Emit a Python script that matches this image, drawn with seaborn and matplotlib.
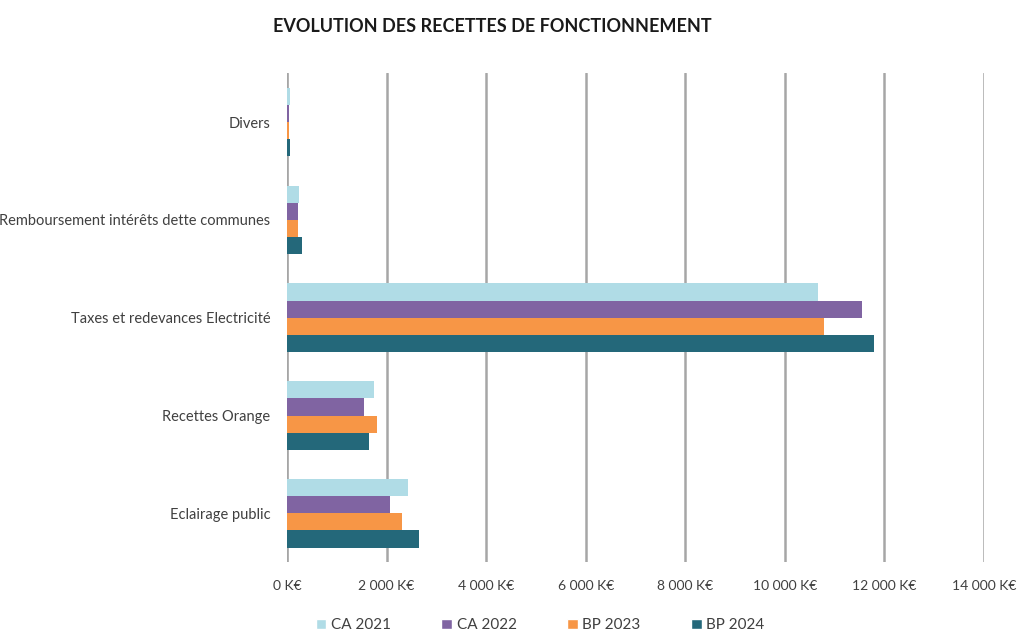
import pandas as pd
import matplotlib.pyplot as plt
import seaborn as sns
from matplotlib.ticker import FuncFormatter
from matplotlib.patches import Patch

# Data (K€)
categories = ["Divers", "Remboursement intérêts dette communes",
              "Taxes et redevances Electricité", "Recettes Orange", "Eclairage public"]
series = ["CA 2021", "CA 2022", "BP 2023", "BP 2024"]
ca_2021 = [60, 240, 10660, 1740, 2430]
ca_2022 = [50, 215, 11560, 1550, 2070]
bp_2023 = [50, 230, 10790, 1810, 2310]
bp_2024 = [70, 300, 11790, 1650, 2650]
colors = ["#b0dce6", "#8064a2", "#f79646", "#24687a"]

rows = []
for name, vals in zip(series, [ca_2021, ca_2022, bp_2023, bp_2024]):
    for cat, v in zip(categories, vals):
        rows.append({"Poste": cat, "Série": name, "Montant": v})
df = pd.DataFrame(rows)

sns.set_theme(style="white")
plt.rcParams["font.family"] = ["Lato", "DejaVu Sans"]

fig = plt.figure(figsize=(10.19, 6.31), dpi=100)
ax = fig.add_axes([0.2816, 0.109, 0.684, 0.775])

sns.barplot(data=df, y="Poste", x="Montant", hue="Série", order=categories,
            hue_order=series, palette=colors, orient="h", width=0.7,
            saturation=1, linewidth=0, ax=ax, legend=False)

ax.set_xlim(0, 14000)
ax.set_ylim(4.5, -0.5)
ax.set_xticks(range(0, 14001, 2000))
ax.xaxis.set_major_formatter(FuncFormatter(
    lambda v, p: "0 K€" if v == 0 else f"{int(v):,} K€".replace(",", " ")))
ax.grid(axis="x", color="#a6a6a6", linewidth=1.8)
ax.set_axisbelow(True)
for s in ax.spines.values():
    s.set_visible(False)
ax.axvline(0, color="#d9d9d9", linewidth=2, zorder=0)
ax.set_xlabel("")
ax.set_ylabel("")
ax.tick_params(axis="x", labelsize=10, colors="#404040", pad=13, length=0)
ax.tick_params(axis="y", labelsize=10.5, colors="#404040", pad=12, length=0)

fig.suptitle("EVOLUTION DES RECETTES DE FONCTIONNEMENT", x=0.483, y=0.972,
             fontsize=13, fontweight="bold", color="#1a1a1a")

handles = [Patch(facecolor=c, label=s) for c, s in zip(colors, series)]
fig.legend(handles=handles, loc="lower center", bbox_to_anchor=(0.53, -0.024),
           ncol=4, frameon=False, fontsize=11, handlelength=0.7, handleheight=0.7,
           handletextpad=0.3, columnspacing=3.3, labelcolor="#404040")

fig.savefig("out.png", dpi=100)
